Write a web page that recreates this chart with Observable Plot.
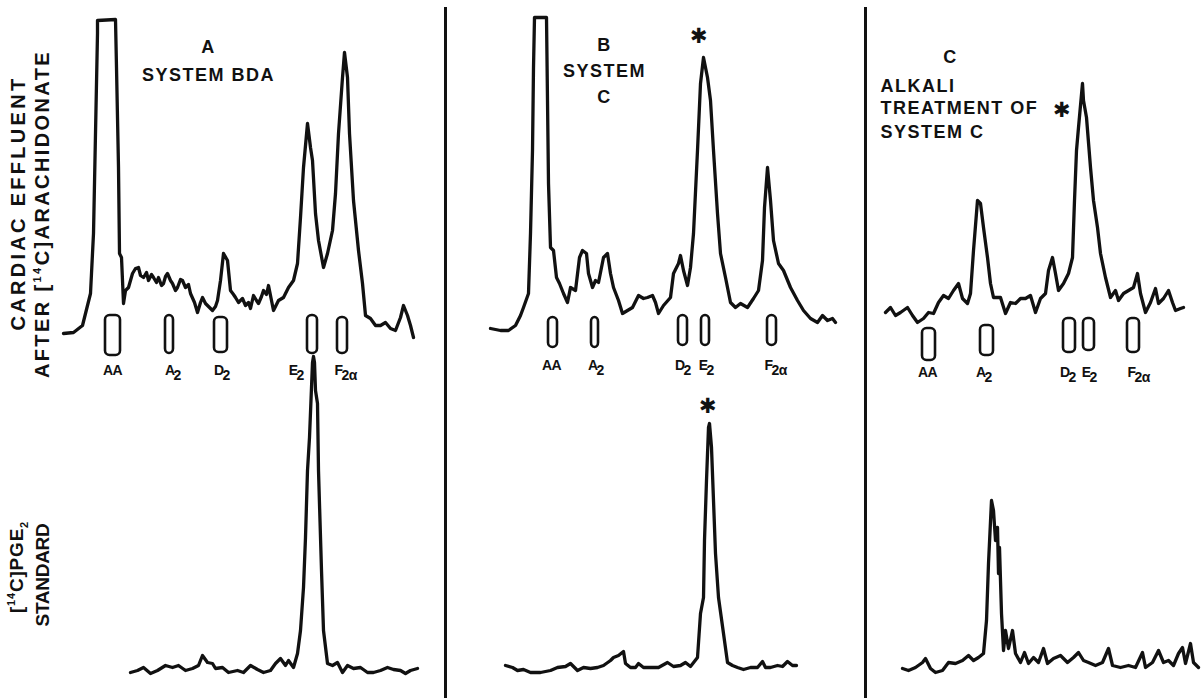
<!DOCTYPE html>
<html>
<head>
<meta charset="utf-8">
<script src="https://cdn.jsdelivr.net/npm/d3@7"></script>
<script src="https://cdn.jsdelivr.net/npm/@observablehq/plot@0.6"></script>
<style>
  body { margin: 0; background: white; }
  #fig { position: relative; width: 1201px; height: 698px; background: white; overflow: hidden; }
  #fig svg { position: absolute; }
  .ylab { position: absolute; transform: translate(-50%, -50%) rotate(-90deg); white-space: nowrap;
          font-family: "Liberation Sans", Arial, Helvetica, sans-serif; font-weight: bold; font-size: 20px;
          color: #111; line-height: 1; }
  .ylab sup, .ylab sub { font-size: 11px; }
  .divider { position: absolute; width: 3px; background: #111; }
</style>
</head>
<body>
<div id="fig">
  <div class="ylab" style="left:18px; top:203px; letter-spacing:3.3px;">CARDIAC EFFLUENT</div>
  <div class="ylab" style="left:42px; top:214px; letter-spacing:2.4px;">AFTER [<sup>14</sup>C]ARACHIDONATE</div>
  <div class="ylab" style="left:18px; top:567px; font-size:19px; letter-spacing:0.8px;">[<sup>14</sup>C]PGE<sub>2</sub></div>
  <div class="ylab" style="left:42px; top:575px; font-size:19px; letter-spacing:-0.3px;">STANDARD</div>
  <div class="divider" style="left:444px; top:7px; height:691px;"></div>
  <div class="divider" style="left:864px; top:7px; height:691px;"></div>
</div>
<script>
const FONT = "'Liberation Sans', Arial, Helvetica, sans-serif";

// Standard spots: main letters and subscript part of each label
const spotBase = ["AA", "A", "D", "E", "F"];
const spotSub  = ["", "2", "2", "2", "2α"];

// ---------- Panel A: System BDA ----------
const aTopDist = [3,13,22,25,30,33,35,37,37,55,56,58,59,61,63,65,68,70,72,75,78,80,83,86,88,91,93,96,98,101,103,105,107,110,112,115,117,120,122,125,128,130,134,137,140,142,145,147,150,152,155,157,160,163,167,170,173,175,178,182,185,188,190,193,196,198,201,203,206,208,211,213,216,218,223,228,233,237,240,243,247,250,252,255,258,263,267,272,275,278,282,284,287,289,293,298,302,305,310,315,320,325,330,335,340,343,347,350,353];
const aTopAct  = [27,28,35,47,67,127,227,327,340,341,293,193,107,103,57,70,73,80,87,92,93,85,83,88,80,86,83,78,83,75,77,84,87,80,77,70,73,81,80,73,76,67,58,48,58,63,57,55,52,50,54,60,80,107,100,70,66,63,58,62,55,58,52,65,60,57,64,70,66,75,60,50,56,60,63,73,80,97,143,193,237,213,200,147,120,93,107,130,167,227,283,308,283,227,160,110,77,45,42,35,35,38,32,30,43,55,45,35,23];
const aBotDist = [70,77,83,90,97,105,112,118,125,132,138,142,147,152,155,162,168,177,183,190,197,203,210,215,220,225,228,233,237,240,243,245,247,249,251,252,253,254,255,257,258,261,263,267,272,277,282,287,293,300,307,313,320,327,333,340,345,350,357];
const aBotAct  = [18,20,23,17,20,25,23,25,20,22,25,35,28,27,22,23,18,20,18,25,21,18,20,27,32,25,30,23,37,60,103,153,220,253,303,328,334,328,300,287,220,120,60,27,25,28,18,25,22,23,18,18,20,23,21,20,17,20,22];
const aSpotX1 = [45,105,154,247,277];
const aSpotX2 = [60,113,167,257,287];
const aSpotTop = [45,45,43,45,43];
const aSpotBottom = [5,7,8,7,7];
const aLabelX = [52,112,161,235,280];
const aLabelAct = -10;
const aTitles = ["A", "SYSTEM BDA"];
const aTitleX = [148,148];
const aTitleAct = [313,285];

// ---------- Panel B: System C ----------
const bTopDist = [40,50,58,65,70,73,78,80,82,83,84,96,97,98,100,103,106,109,113,117,120,125,129,132,136,138,142,145,148,153,157,160,163,168,172,177,182,188,193,197,202,205,208,213,220,223,228,230,233,237,240,243,247,250,253,257,260,263,267,270,275,280,285,290,297,303,308,312,314,317,320,323,328,333,340,347,353,360,367,372,377,382,385];
const bTopAct  = [32,30,30,35,45,53,67,127,210,293,343,343,260,177,113,110,83,77,67,58,73,70,103,110,107,87,73,80,78,103,107,87,73,60,47,50,53,65,62,63,65,58,47,55,63,87,97,105,90,75,93,127,210,277,303,283,260,210,147,107,83,58,53,57,53,62,70,100,153,193,160,120,97,90,73,60,50,42,38,45,40,42,38];
const bBotDist = [55,62,67,73,80,90,100,107,115,120,127,133,140,147,153,160,163,168,173,175,180,185,188,193,200,208,217,223,230,235,240,247,250,253,254,256,258,259,261,263,265,268,273,277,282,287,293,300,307,312,315,320,327,332,337,342,346];
const bBotAct  = [25,23,20,21,18,18,20,23,24,27,20,23,22,23,25,30,33,35,39,27,23,23,27,23,23,23,28,24,25,28,24,33,77,93,150,210,263,267,243,190,137,93,57,28,25,23,21,23,23,29,23,23,25,24,29,25,25];
const bSpotX1 = [98,141,228,251,317];
const bSpotX2 = [107,148,237,259,326];
const bSpotTop = [43,43,45,45,45];
const bSpotBottom = [13,13,15,15,15];
const bLabelX = [101,145,232,255,320];
const bLabelAct = -5;
const bTitles = ["B", "SYSTEM", "C"];
const bTitleX = [154,154,154];
const bTitleAct = [315,289,263];
const bTopStar = [249, 324];
const bBotStar = [258, 284];

// ---------- Panel C: Alkali treatment of System C ----------
const cTopDist = [15,20,25,30,37,42,47,53,58,63,68,73,78,83,88,92,97,100,103,107,110,113,117,120,123,130,135,140,145,150,155,160,165,170,175,178,182,185,188,193,198,202,204,206,208,212,213,216,220,223,227,230,235,240,245,248,253,258,263,267,270,275,280,285,288,293,298,302,305,310,313];
const cTopAct  = [48,53,45,48,53,45,38,42,48,47,58,65,62,70,77,62,57,67,110,160,157,133,103,77,63,63,47,58,57,62,62,65,48,62,67,90,103,87,70,77,87,103,160,210,233,277,260,243,193,160,133,107,83,63,70,60,67,70,73,87,67,48,58,72,57,62,70,58,50,52,53];
const cBotDist = [32,38,45,52,55,60,65,72,78,85,92,98,103,108,113,116,118,121,123,125,127,128,129,131,133,135,138,142,145,150,154,158,163,168,173,177,183,190,197,203,208,213,218,225,232,238,242,250,258,265,272,275,282,288,293,298,303,308,312,315,320,323,328];
const cBotAct  = [22,20,23,28,32,22,18,20,28,27,30,35,30,33,37,70,127,190,180,150,163,117,143,77,40,60,42,60,37,28,38,27,33,28,42,27,32,35,28,33,38,30,28,25,28,42,25,23,25,23,38,23,28,40,28,30,25,37,43,27,47,28,23];
const cSpotX1 = [52,110,193,213,257];
const cSpotX2 = [65,123,205,224,269];
const cSpotTop = [32,35,42,42,42];
const cSpotBottom = [0,5,8,10,8];
const cLabelX = [57,113,197,218,263];
const cLabelAct = -12;
const cTitles = ["C", "ALKALI", "TREATMENT OF", "SYSTEM C"];
const cTitleX = [80,10,10,10];
const cTitleAct = [303,274,252,228];
const cTitleAnchor = ["middle","start","start","start"];
const cTopStar = [192, 250];

// ---------- helpers ----------
const trace = (dist, act) => dist.map((d, i) => ({d, a: act[i]}));
const spotRows = (x1, x2, top, bottom, lx, ly) =>
  spotBase.map((base, i) => ({base, sub: spotSub[i], x1: x1[i], x2: x2[i], top: top[i], bottom: bottom[i], lx: lx[i], ly}));
const titleRows = (texts, xs, ys, anchors) =>
  texts.map((t, i) => ({t, x: xs[i], y: ys[i], anchor: anchors ? anchors[i] : "middle"}));

const INK = "#111";
const LINE = {x: "d", y: "a", stroke: INK, strokeWidth: 3.3, strokeLinejoin: "round", strokeLinecap: "round"};
const TXT = {fill: INK, fontFamily: FONT, fontWeight: "bold"};

function spotMarks(spots) {
  return [
    Plot.rect(spots, {x1: "x1", x2: "x2", y1: "bottom", y2: "top", rx: 4.5, fill: "none", stroke: INK, strokeWidth: 2.6}),
    Plot.text(spots.filter(d => !d.sub), {...TXT, x: "lx", y: "ly", text: "base", fontSize: 14, textAnchor: "middle", ariaDescription: "spot-label"}),
    Plot.text(spots.filter(d => d.sub), {...TXT, x: "lx", y: "ly", text: "base", fontSize: 14, textAnchor: "end", dx: 2, ariaDescription: "spot-label"}),
    Plot.text(spots.filter(d => d.sub), {...TXT, x: "lx", y: "ly", text: "sub", fontSize: 14, textAnchor: "start", dx: 1, dy: 5, ariaDescription: "spot-label"})
  ];
}
function titleMarks(rows) {
  return [
    Plot.text(rows.filter(d => d.anchor === "middle"), {...TXT, x: "x", y: "y", text: "t", textAnchor: "middle", fontSize: 18}),
    Plot.text(rows.filter(d => d.anchor === "start"), {...TXT, x: "x", y: "y", text: "t", textAnchor: "start", fontSize: 18})
  ];
}
const starMark = (pos) => Plot.text([pos], {x: d => d[0], y: d => d[1], text: () => "✱", fontSize: 21, fontWeight: "bold", fill: INK, fontFamily: "DejaVu Sans"});

function makePlot(width, height, yDomain, marks) {
  const svg = Plot.plot({
    width, height, margin: 0,
    x: {domain: [0, width], axis: null},
    y: {domain: yDomain, axis: null},
    style: {background: "transparent", overflow: "visible", fontFamily: FONT, letterSpacing: "1.5px", color: INK},
    marks
  });
  svg.querySelectorAll('[aria-description="spot-label"]').forEach(g => g.setAttribute("letter-spacing", "-0.5"));
  svg.querySelectorAll('[aria-description="spot-label"]').forEach(g => g.style.letterSpacing = "-0.5px");
  return svg;
}

const fig = document.getElementById("fig");
function place(svg, left, top) {
  svg.style.left = left + "px";
  svg.style.top = top + "px";
  svg.style.position = "absolute";
  fig.appendChild(svg);
}

const TOP_H = 390, TOP_DOM = [-30, 360];
const BOT_TOP = 340, BOT_H = 358, BOT_DOM = [-8, 350];

// Panel A
place(makePlot(385, TOP_H, TOP_DOM, [
  Plot.line(trace(aTopDist, aTopAct), LINE),
  ...spotMarks(spotRows(aSpotX1, aSpotX2, aSpotTop, aSpotBottom, aLabelX, aLabelAct)),
  ...titleMarks(titleRows(aTitles, aTitleX, aTitleAct))
]), 60, 0);
place(makePlot(385, BOT_H, BOT_DOM, [Plot.line(trace(aBotDist, aBotAct), LINE)]), 60, BOT_TOP);

// Panel B
place(makePlot(414, TOP_H, TOP_DOM, [
  Plot.line(trace(bTopDist, bTopAct), LINE),
  ...spotMarks(spotRows(bSpotX1, bSpotX2, bSpotTop, bSpotBottom, bLabelX, bLabelAct)),
  ...titleMarks(titleRows(bTitles, bTitleX, bTitleAct)),
  starMark(bTopStar)
]), 450, 0);
place(makePlot(414, BOT_H, BOT_DOM, [
  Plot.line(trace(bBotDist, bBotAct), LINE),
  starMark(bBotStar)
]), 450, BOT_TOP);

// Panel C
place(makePlot(331, TOP_H, TOP_DOM, [
  Plot.line(trace(cTopDist, cTopAct), LINE),
  ...spotMarks(spotRows(cSpotX1, cSpotX2, cSpotTop, cSpotBottom, cLabelX, cLabelAct)),
  ...titleMarks(titleRows(cTitles, cTitleX, cTitleAct, cTitleAnchor)),
  starMark(cTopStar)
]), 870, 0);
place(makePlot(331, BOT_H, BOT_DOM, [Plot.line(trace(cBotDist, cBotAct), LINE)]), 870, BOT_TOP);
</script>
</body>
</html>
